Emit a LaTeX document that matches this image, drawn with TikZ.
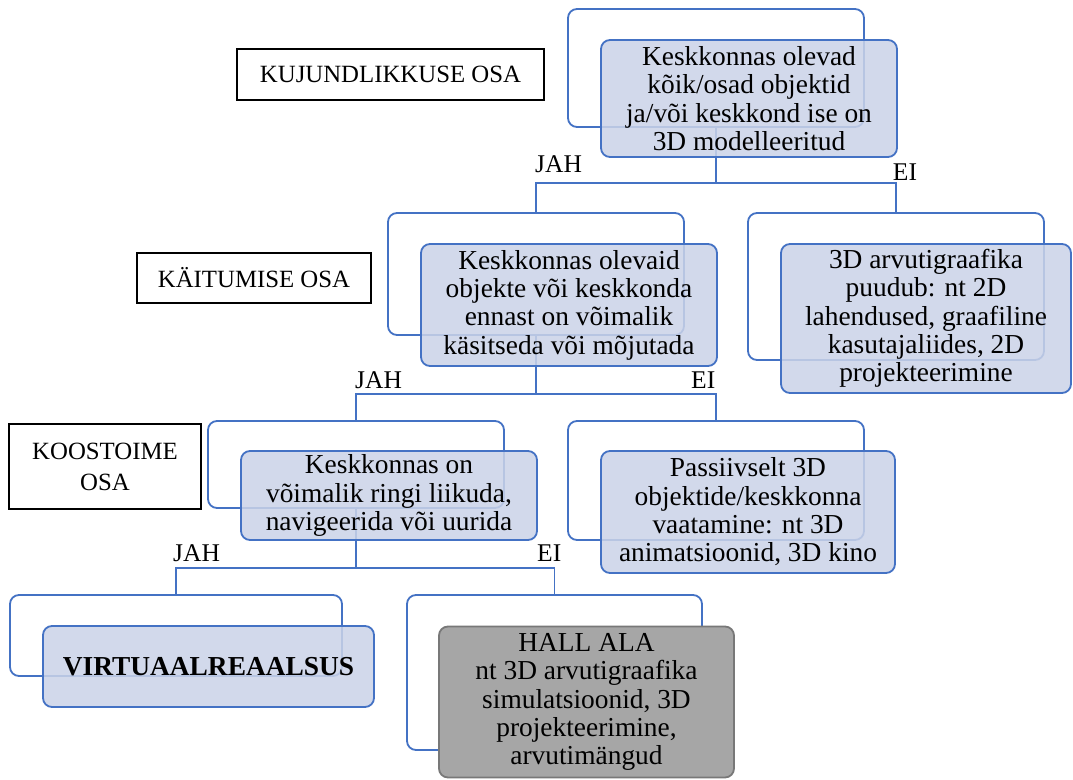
\documentclass[tikz,border=0pt]{standalone}
\usepackage{fontspec}
\setmainfont{Liberation Serif}
\definecolor{edgeblue}{RGB}{68,114,196}
\definecolor{paleblue}{RGB}{203,211,232}
\definecolor{greyfill}{RGB}{166,166,166}
\definecolor{greyedge}{RGB}{120,120,120}
\tikzset{
  conn/.style={draw=edgeblue, line width=1.8pt},
  backbox/.style={draw=edgeblue, fill=white, line width=1.8pt, rounded corners=9pt,
    inner sep=0pt},
  frontbox/.style={draw=edgeblue, fill=paleblue, fill opacity=0.86, text opacity=1,
    line width=1.8pt, rounded corners=9pt, inner sep=0pt, align=center,
    font=\fontsize{27.4}{28.3}\selectfont},
  greybox/.style={draw=greyedge, fill=greyfill, line width=1.8pt, rounded corners=9pt,
    inner sep=0pt, align=center, font=\fontsize{27.4}{28.3}\selectfont},
  levelbox/.style={draw=black, line width=1.4pt, inner sep=0pt, align=center,
    font=\fontsize{24.8}{31}\selectfont},
  branch/.style={font=\fontsize{25.5}{28}\selectfont, inner sep=0pt},
}
\begin{document}
\begin{tikzpicture}[x=1pt, y=-1pt]
\useasboundingbox (0,0) rectangle (1073,779);

% level captions
\node[levelbox, minimum width=307pt, minimum height=51pt] (capA) at (390.5,74.5) {KUJUNDLIKKUSE OSA};
\node[levelbox, minimum width=234pt, minimum height=50pt] (capB) at (254,278) {KÄITUMISE OSA};
\node[levelbox, minimum width=192pt, minimum height=85pt] (capC) at (105,466.5) {KOOSTOIME\\OSA};

% junction points of the branch bars
\coordinate (j0) at (716,183);
\coordinate (j1) at (536,394);
\coordinate (j2) at (356,568);

% back frames
\node[backbox, minimum width=296pt, minimum height=118pt] (b0) at (716,68) {};
\node[backbox, minimum width=296pt, minimum height=122pt] (b1l) at (536,274) {};
\node[backbox, minimum width=296pt, minimum height=147pt] (b1r) at (896,286.5) {};
\node[backbox, minimum width=296pt, minimum height=87pt] (b2l) at (356,464.5) {};
\node[backbox, minimum width=296pt, minimum height=119pt] (b2r) at (716,480.5) {};
\node[backbox, minimum width=332pt, minimum height=81pt] (b3l) at (176,635.5) {};
\node[backbox, minimum width=295pt, minimum height=155pt] (b3r) at (554.5,672.5) {};

% connectors
\draw[conn] (b0.south) -- (j0);
\draw[conn] (b1l.north) |- (j0) -| (b1r.north);
\draw[conn] (b1l.south) -- (j1);
\draw[conn] (b2l.north) |- (j1) -| (b2r.north);
\draw[conn] (b2l.south) -- (j2);
\draw[conn] (b3l.north) |- (j2) -| (b3r.north);

% front boxes
\node[frontbox, minimum width=296pt, minimum height=117pt] (f0) at (749,98.5)
  {Keskkonnas olevad\\kõik/osad objektid\\ja/või keskkond ise on\\3D modelleeritud};
\node[frontbox, minimum width=296pt, minimum height=122pt] (f1l) at (569,305)
  {Keskkonnas olevaid\\objekte või keskkonda\\ennast on võimalik\\käsitseda või mõjutada};
\node[frontbox, minimum width=290pt, minimum height=149pt] (f1r) at (926,318.5)
  {3D arvutigraafika\\puudub: nt 2D\\lahendused, graafiline\\kasutajaliides, 2D\\projekteerimine};
\node[frontbox, minimum width=296pt, minimum height=89pt] (f2l) at (389,495.5)
  {Keskkonnas on\\võimalik ringi liikuda,\\navigeerida või uurida};
\node[frontbox, minimum width=294pt, minimum height=122pt] (f2r) at (748,512)
  {Passiivselt 3D\\objektide/keskkonna\\vaatamine: nt 3D\\animatsioonid, 3D kino};
\node[frontbox, minimum width=331pt, minimum height=81pt] (f3l) at (208.5,666.5)
  {\bfseries VIRTUAALREAALSUS};
\node[greybox, minimum width=295pt, minimum height=151pt] (f3r) at (586.5,702)
  {HALL ALA\\nt 3D arvutigraafika\\simulatsioonid, 3D\\projekteerimine,\\arvutimängud};

% branch labels
\node[branch, anchor=base west] (yes0) at (535,172) {JAH};
\node[branch, anchor=base] (no0) at (905,180) {EI};
\node[branch, anchor=base west] (yes1) at (355,388) {JAH};
\node[branch, anchor=base west] (no1) at (691,388) {EI};
\node[branch, anchor=base west] (yes2) at (173,561) {JAH};
\node[branch, anchor=base west] (no2) at (537,561) {EI};
\end{tikzpicture}
\end{document}
